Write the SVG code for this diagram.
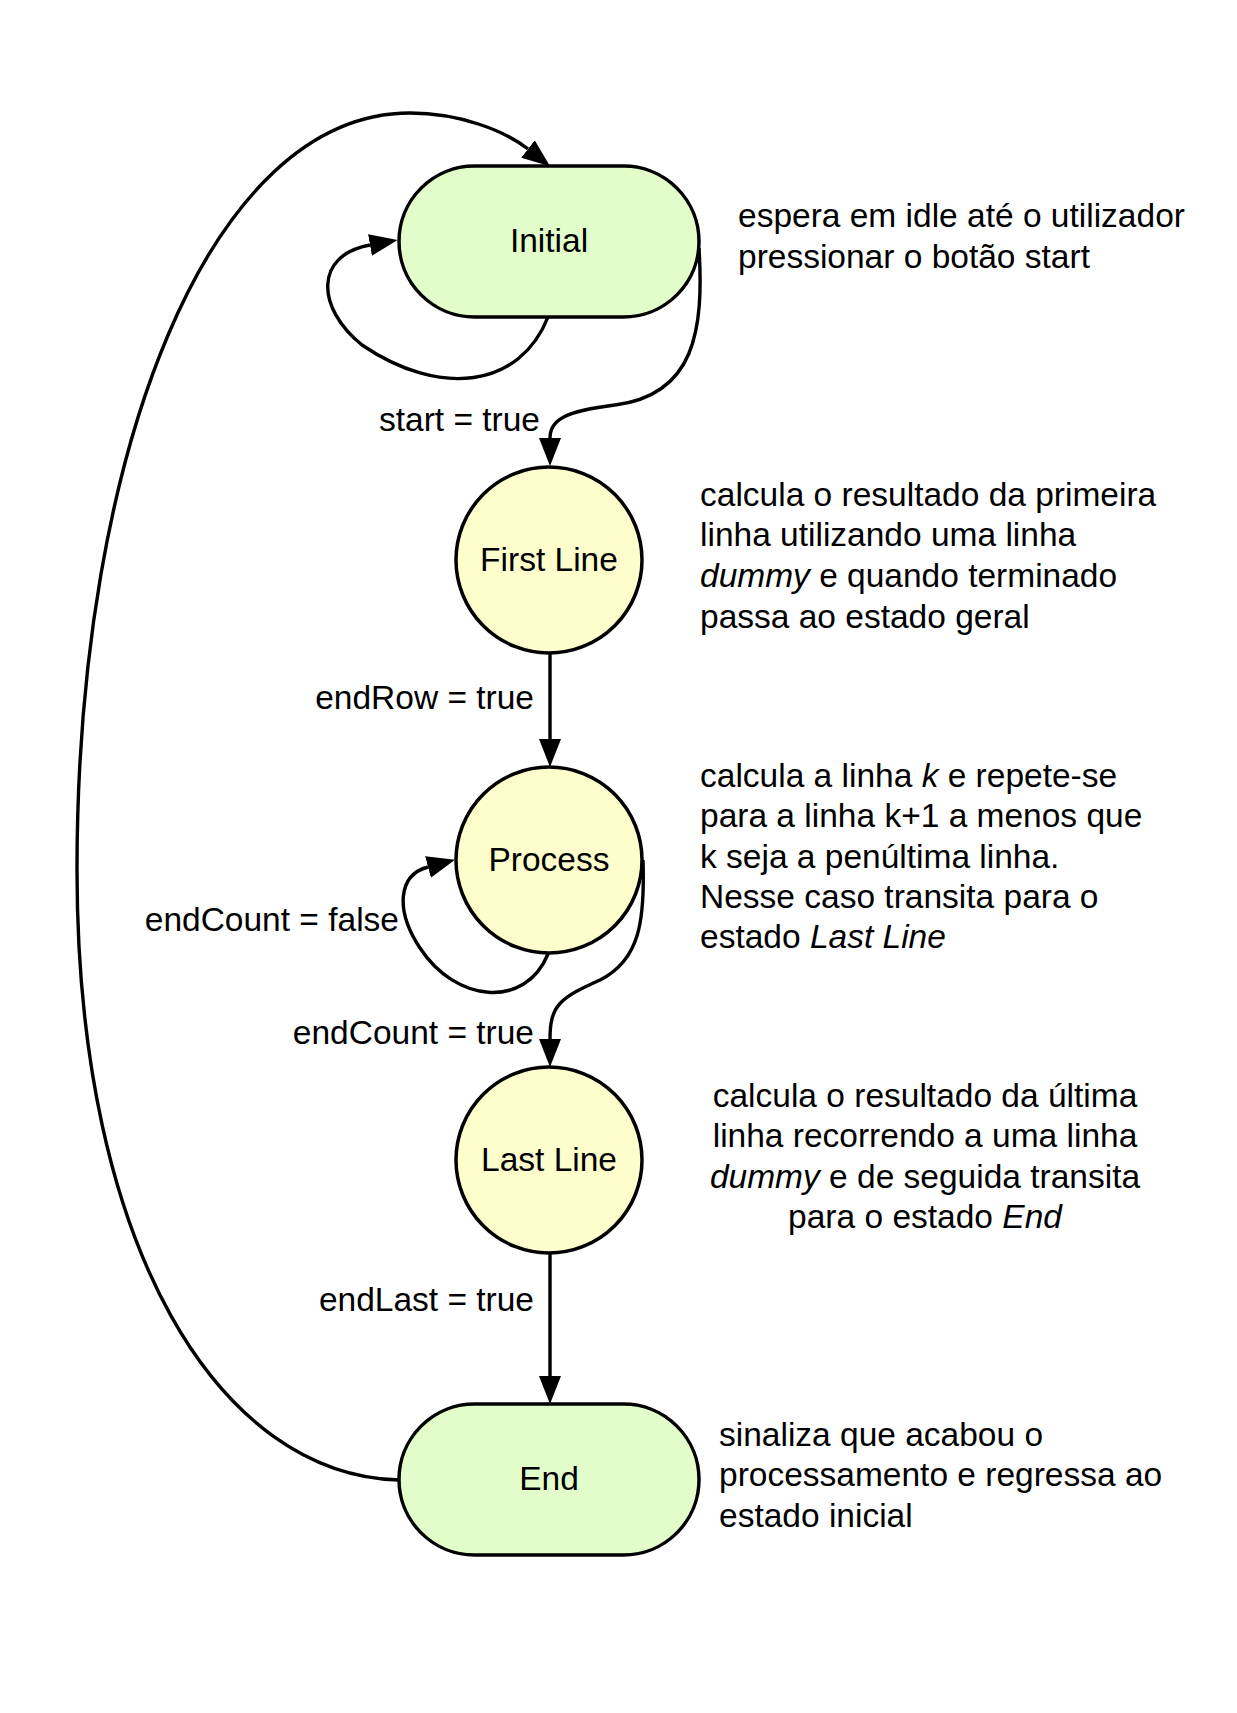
<svg xmlns="http://www.w3.org/2000/svg" width="1237" height="1713" viewBox="0 0 1237 1713">
<defs>
<style>
.t{font-family:"Liberation Sans",Arial,sans-serif;font-size:33.5px;fill:#000}
.c{text-anchor:middle}
.r{text-anchor:end}
.term{fill:#e3fdca;stroke:#000;stroke-width:3.5}
.st{fill:#fefecd;stroke:#000;stroke-width:3.5}
.e{fill:none;stroke:#000;stroke-width:3.4;marker-end:url(#ah)}
.i{font-style:italic}
</style>
<marker id="ah" markerUnits="userSpaceOnUse" markerWidth="30" markerHeight="24" refX="0" refY="11" orient="auto" viewBox="0 0 30 24">
<path d="M0,0 L28,11 L0,22 z" fill="#000"/>
</marker>
</defs>
<rect width="1237" height="1713" fill="#fff"/>
<g id="connectors">
<path class="e" d="M 699 248 C 704 330 695 395 615 405 C 565 411 550 420 550 438"/>
<path class="e" d="M 548 317 C 520 388 440 398 362 345 C 316 308 314 255 370 245"/>
<path class="e" d="M 550 653 L 550 739"/>
<path class="e" d="M 548 954 C 525 1010 455 1002 420 948 C 395 910 398 875 428 867"/>
<path class="e" d="M 643 860 C 645 920 640 960 600 980 C 560 998 550 1005 550 1039"/>
<path class="e" d="M 550 1253 L 550 1376"/>
<path class="e" d="M 399 1480 C 220 1475 77 1250 77 870 C 77 450 210 113 410 113 C 460 113 505 131 528 149"/>
<text class="t r" x="540" y="431">start = true</text>
<text class="t r" x="534" y="709">endRow = true</text>
<text class="t r" x="399" y="931">endCount = false</text>
<text class="t r" x="534" y="1044">endCount = true</text>
<text class="t r" x="534" y="1311">endLast = true</text>
</g>
<g id="initial">
<rect class="term" x="399" y="166" width="300" height="151" rx="75.5"/>
<text class="t c" x="549" y="252">Initial</text>
</g>
<g id="firstline">
<circle class="st" cx="549" cy="560" r="93"/>
<text class="t c" x="549" y="571">First Line</text>
</g>
<g id="process">
<circle class="st" cx="549" cy="860" r="93"/>
<text class="t c" x="549" y="871">Process</text>
</g>
<g id="lastline">
<circle class="st" cx="549" cy="1160" r="93"/>
<text class="t c" x="549" y="1171">Last Line</text>
</g>
<g id="end">
<rect class="term" x="399" y="1404" width="300" height="151" rx="75.5"/>
<text class="t c" x="549" y="1490">End</text>
</g>
<g id="notes">
<text class="t" x="738" y="227">espera em idle até o utilizador</text>
<text class="t" x="738" y="268">pressionar o botão start</text>
<text class="t" x="700" y="506">calcula o resultado da primeira</text>
<text class="t" x="700" y="546">linha utilizando uma linha</text>
<text class="t" x="700" y="587"><tspan class="i">dummy</tspan> e quando terminado</text>
<text class="t" x="700" y="628">passa ao estado geral</text>
<text class="t" x="700" y="787">calcula a linha <tspan class="i">k</tspan> e repete-se</text>
<text class="t" x="700" y="827">para a linha k+1 a menos que</text>
<text class="t" x="700" y="868">k seja a penúltima linha.</text>
<text class="t" x="700" y="908">Nesse caso transita para o</text>
<text class="t" x="700" y="948">estado <tspan class="i">Last Line</tspan></text>
<text class="t c" x="925" y="1107">calcula o resultado da última</text>
<text class="t c" x="925" y="1147">linha recorrendo a uma linha</text>
<text class="t c" x="925" y="1188"><tspan class="i">dummy</tspan> e de seguida transita</text>
<text class="t c" x="925" y="1228">para o estado <tspan class="i">End</tspan></text>
<text class="t" x="719" y="1446">sinaliza que acabou o</text>
<text class="t" x="719" y="1486">processamento e regressa ao</text>
<text class="t" x="719" y="1527">estado inicial</text>
</g>
</svg>
